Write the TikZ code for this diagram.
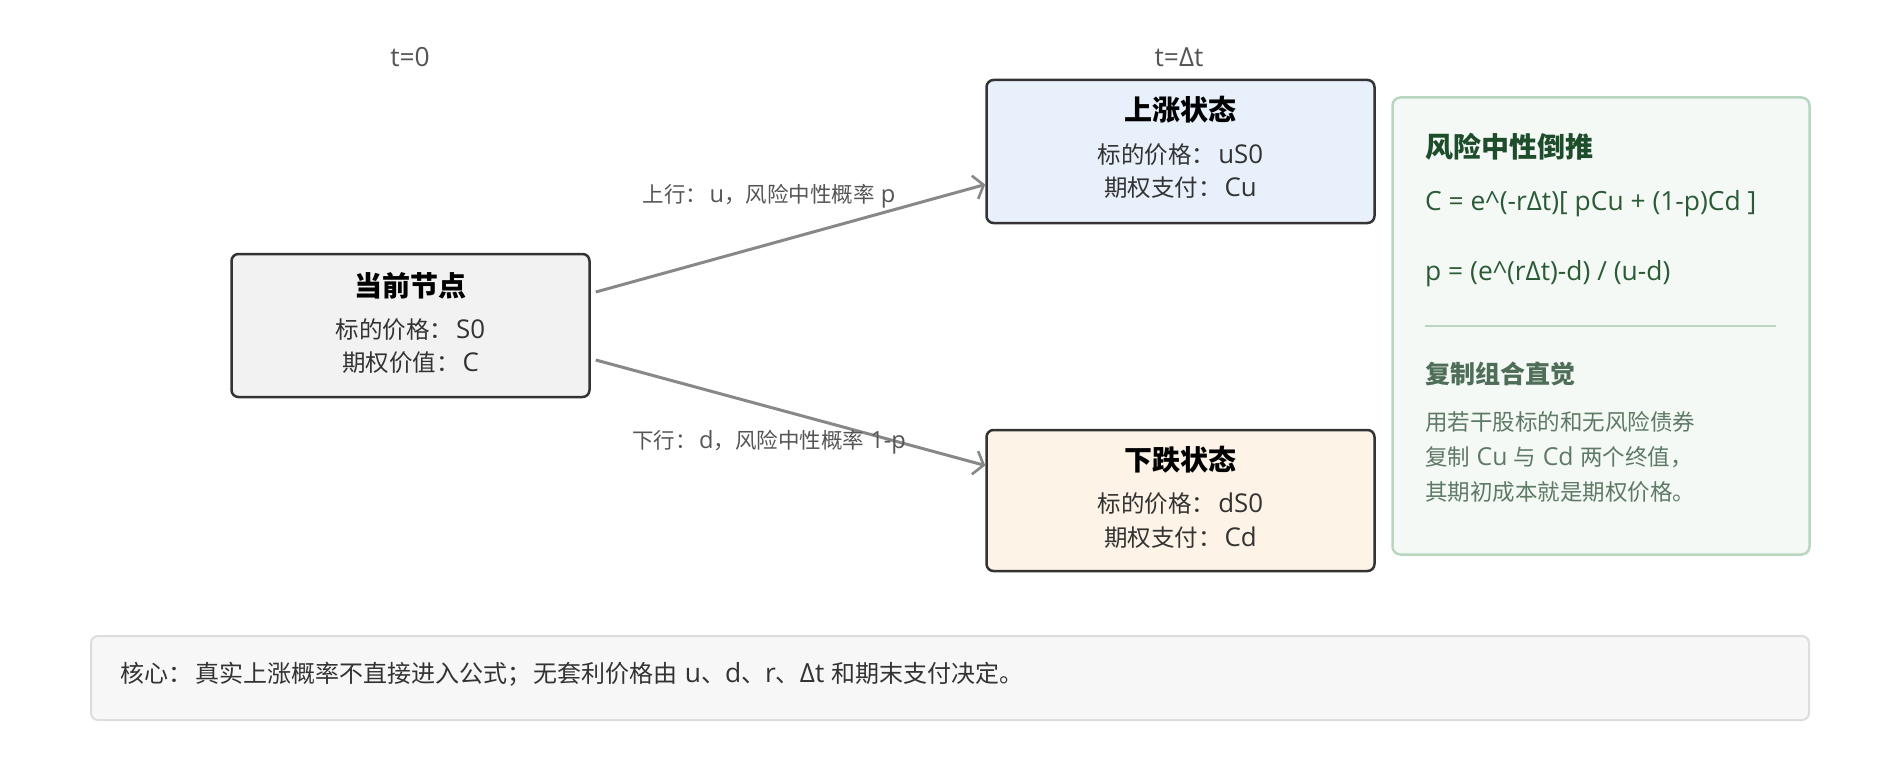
\documentclass[tikz,border=0pt]{standalone}
\usepackage{fontspec}
\setmainfont{Noto Sans CJK SC}
\newfontfamily\lat[Scale=1.1]{Open Sans}
\usetikzlibrary{arrows.meta}
\definecolor{boxline}{HTML}{333333}
\definecolor{curfill}{HTML}{F2F2F2}
\definecolor{upfill}{HTML}{E8F0FB}
\definecolor{downfill}{HTML}{FDF3E7}
\definecolor{panelfill}{HTML}{F4F9F5}
\definecolor{panelline}{HTML}{B8D6C0}
\definecolor{gtitle}{HTML}{1E4D2B}
\definecolor{gformula}{HTML}{2A5A36}
\definecolor{gsub}{HTML}{4F6E57}
\definecolor{gbody}{HTML}{5E7A66}
\definecolor{notefill}{HTML}{F7F7F7}
\definecolor{noteline}{HTML}{DDDDDD}
\definecolor{txt}{HTML}{333333}
\definecolor{lbl}{HTML}{555555}
\definecolor{arrowc}{HTML}{888888}
\newcommand{\cs}{\hspace{0.12em}}
\tikzset{
  statebox/.style={draw=boxline, line width=2.5pt, rounded corners=7pt, inner sep=0pt},
  ttl/.style={font=\fontsize{28}{32}\selectfont\bfseries, text=black, inner sep=0pt},
  bodytxt/.style={font=\fontsize{23.5}{27}\selectfont, text=txt, inner sep=0pt},
  edgelbl/.style={font=\fontsize{21.5}{24}\selectfont, text=lbl, inner sep=0pt},
  timelbl/.style={font=\lat\fontsize{24}{27}\selectfont, text=lbl, inner sep=0pt},
  conn/.style={draw=arrowc, line width=3pt, -{Straight Barb[length=9pt,width=24pt,line width=2.6pt]}},
  ptext/.style={anchor=west, inner sep=0pt}
}
\begin{document}
\begin{tikzpicture}[x=1pt,y=-1pt]
\useasboundingbox (0,0) rectangle (1900,770);

% time labels
\node[timelbl] (t0) at (410,57) {t=0};
\node[timelbl] (t1) at (1179,57) {t=Δt};

% state boxes
\node[statebox, fill=curfill, minimum width=358pt, minimum height=143pt] (cur) at (410.5,325.5) {};
\node[statebox, fill=upfill, minimum width=388pt, minimum height=143pt] (up) at (1180.5,151.5) {};
\node[statebox, fill=downfill, minimum width=388pt, minimum height=141pt] (down) at (1180.5,500.5) {};

\node[ttl] (curT) at (410.5,286) {当前节点};
\node[bodytxt] (curA) at (410.5,330) {标的价格：\cs{\lat S0}};
\node[bodytxt] (curB) at (410.5,363) {期权价值：\cs{\lat C}};

\node[ttl] (upT) at (1180.5,110) {上涨状态};
\node[bodytxt] (upA) at (1180.5,155) {标的价格：\cs{\lat uS0}};
\node[bodytxt] (upB) at (1180.5,188) {期权支付：\cs{\lat Cu}};

\node[ttl] (downT) at (1180.5,460) {下跌状态};
\node[bodytxt] (downA) at (1180.5,504) {标的价格：\cs{\lat dS0}};
\node[bodytxt] (downB) at (1180.5,538) {期权支付：\cs{\lat Cd}};

% connectors
\draw[conn] ([xshift=5pt,yshift=33.5pt]cur.east) -- ([yshift=-33pt]up.west);
\draw[conn] ([xshift=5pt,yshift=-34.5pt]cur.east) -- ([yshift=35pt]down.west);
\node[edgelbl] (lu) at (769,196) {上行：\cs{\lat u}，风险中性概率{\lat\ p}};
\node[edgelbl] (ld) at (769,442) {下行：\cs{\lat d}，风险中性概率{\lat\ 1-p}};

% right panel
\node[draw=panelline, fill=panelfill, line width=2.5pt, rounded corners=8pt, minimum width=417pt, minimum height=457pt, inner sep=0pt] (panel) at (1601,326) {};
\node[ptext, font=\fontsize{28}{31}\selectfont\bfseries, text=gtitle] (pT) at (1425,147) {风险中性倒推};
\node[ptext, font=\lat\fontsize{24}{27}\selectfont, text=gformula] (pF1) at (1425,204) {C = e\^{}(-rΔt)[ pCu + (1-p)Cd ]};
\node[ptext, font=\lat\fontsize{24}{27}\selectfont, text=gformula] (pF2) at (1425,274) {p = (e\^{}(rΔt)-d) / (u-d)};
\coordinate (dl) at (1425,326);
\coordinate (dr) at (1776,326);
\draw[draw=panelline, line width=1.8pt] (dl) -- (dr);
\node[ptext, font=\fontsize{25}{28}\selectfont\bfseries, text=gsub] (pS) at (1425,374) {复制组合直觉};
\node[ptext, font=\fontsize{22.5}{25}\selectfont, text=gbody] (pB1) at (1425,422) {用若干股标的和无风险债券};
\node[ptext, font=\fontsize{22.5}{25}\selectfont, text=gbody] (pB2) at (1425,457) {复制{\lat\ Cu }与{\lat\ Cd }两个终值，};
\node[ptext, font=\fontsize{22.5}{25}\selectfont, text=gbody] (pB3) at (1425,492) {其期初成本就是期权价格。};

% bottom note
\node[draw=noteline, fill=notefill, line width=2pt, rounded corners=7pt, minimum width=1718pt, minimum height=84pt, inner sep=0pt] (note) at (950,678) {};
\node[ptext, font=\fontsize{24}{27}\selectfont, text=txt] (noteT) at (120,674) {核心：\cs 真实上涨概率不直接进入公式；\cs 无套利价格由{\lat\ u}、{\lat d}、{\lat r}、{\lat Δt }和期末支付决定。};
\end{tikzpicture}
\end{document}
